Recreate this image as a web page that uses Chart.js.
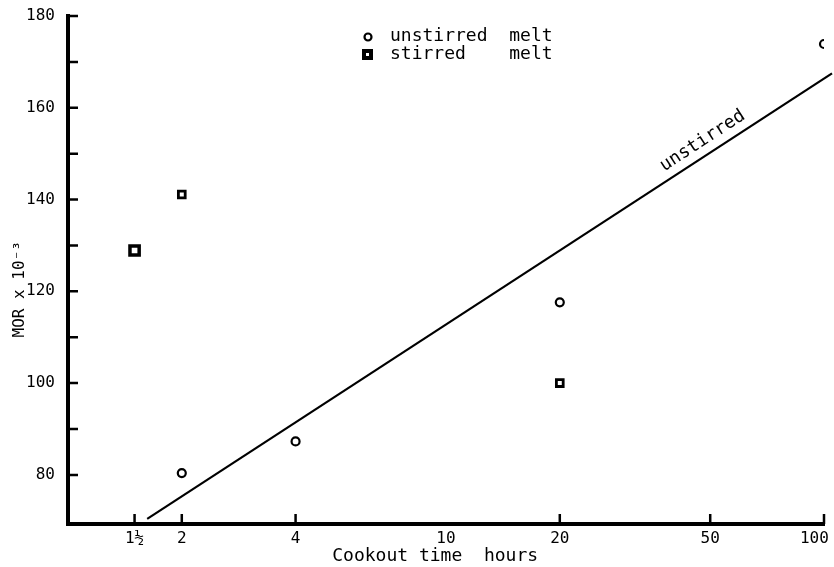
<!DOCTYPE html>
<html>
<head>
<meta charset="utf-8">
<script src="https://cdn.jsdelivr.net/npm/chart.js@4/dist/chart.umd.min.js"></script>
<style>
  html, body { margin: 0; padding: 0; background: #fff; }
  #wrap { width: 834px; height: 567px; }
</style>
</head>
<body>
<div id="wrap"><canvas id="mor"></canvas></div>
<script>
// cookout time (hours) vs MOR x 10^-3
const unstirredHours = [2, 4, 20, 100];
const unstirredMor = [80.4, 87.3, 117.6, 173.9];
const stirredHours = [1.5, 2, 20];
const stirredMor = [128.9, 141.1, 100];
// fitted line for the unstirred melt
const fitHours = [1.62, 105];
const fitMor = [70.4, 167.5];

const xTicks = [1.5, 2, 4, 10, 20, 50, 100];
const xTickLabels = ['1\u00bd', '2', '4', '10', '20', '50', '100  '];
const xTickMarks = [1.5, 2, 4, 20, 50, 100];
const yTicks = [80, 90, 100, 110, 120, 130, 140, 150, 160, 170, 180];

const FONT = "'DejaVu Sans Mono', monospace";

const toPoints = (xs, ys) => xs.map((x, i) => ({ x: x, y: ys[i] }));

// inward tick marks, legend and the line label
const decorations = {
  id: 'decorations',
  afterDraw(chart) {
    const ctx = chart.ctx;
    const xs = chart.scales.x, ys = chart.scales.y;
    const area = chart.chartArea;
    ctx.save();
    ctx.strokeStyle = '#000';
    ctx.lineWidth = 2.5;
    ctx.beginPath();
    yTicks.forEach(v => {
      const py = ys.getPixelForValue(v);
      ctx.moveTo(area.left, py);
      ctx.lineTo(area.left + 10, py);
    });
    xTickMarks.forEach(v => {
      const px = xs.getPixelForValue(v);
      ctx.moveTo(px, area.bottom);
      ctx.lineTo(px, area.bottom - 10);
    });
    ctx.stroke();

    // legend
    ctx.fillStyle = '#000';
    ctx.font = '18px ' + FONT;
    ctx.textBaseline = 'middle';
    ctx.textAlign = 'left';
    ctx.lineWidth = 2.2;
    ctx.beginPath();
    ctx.arc(368, 37, 3.5, 0, Math.PI * 2);
    ctx.stroke();
    ctx.fillText('unstirred  melt', 390, 36);
    ctx.fillRect(362, 49, 11, 11);
    ctx.fillStyle = '#fff';
    ctx.fillRect(366, 53, 3, 3);
    ctx.fillStyle = '#000';
    ctx.fillText('stirred    melt', 390, 54);

    // "unstirred" written along the fitted line
    const p0 = { x: xs.getPixelForValue(fitHours[0]), y: ys.getPixelForValue(fitMor[0]) };
    const p1 = { x: xs.getPixelForValue(fitHours[1]), y: ys.getPixelForValue(fitMor[1]) };
    const ang = Math.atan2(p1.y - p0.y, p1.x - p0.x);
    const lx = xs.getPixelForValue(50);
    const t = (lx - p0.x) / (p1.x - p0.x);
    const ly = p0.y + t * (p1.y - p0.y);
    ctx.translate(lx, ly);
    ctx.rotate(ang);
    ctx.textAlign = 'center';
    ctx.textBaseline = 'bottom';
    ctx.fillText('unstirred', 0, -5);
    ctx.restore();
  }
};

new Chart(document.getElementById('mor'), {
  type: 'scatter',
  data: {
    datasets: [
      {
        label: 'unstirred melt',
        data: toPoints(unstirredHours, unstirredMor),
        pointStyle: 'circle',
        pointRadius: 4,
        pointBorderWidth: 2.2,
        borderColor: '#000',
        backgroundColor: '#fff'
      },
      {
        label: 'stirred melt',
        data: toPoints(stirredHours, stirredMor),
        pointStyle: 'rect',
        pointRadius: [6.5, 4.8, 4.8],
        pointBorderWidth: [3.5, 2.8, 2.8],
        borderColor: '#000',
        backgroundColor: '#fff'
      },
      {
        label: 'unstirred fit',
        data: toPoints(fitHours, fitMor),
        showLine: true,
        pointRadius: 0,
        borderColor: '#000',
        borderWidth: 2.2,
        clip: false
      }
    ]
  },
  options: {
    responsive: true,
    maintainAspectRatio: false,
    animation: false,
    layout: { padding: { top: 16, right: 10, left: 0, bottom: 0 } },
    plugins: {
      legend: { display: false },
      tooltip: { enabled: false }
    },
    scales: {
      x: {
        type: 'logarithmic',
        min: 1,
        max: 100,
        afterBuildTicks: (scale) => { scale.ticks = xTicks.map(v => ({ value: v })); },
        afterFit: (scale) => { scale.height = 43; scale.paddingRight = 0; scale.paddingLeft = 0; },
        grid: { display: true, drawOnChartArea: false, drawTicks: false },
        border: { display: true, color: '#000', width: 4 },
        ticks: {
          autoSkip: false,
          maxRotation: 0,
          padding: 5,
          color: '#000',
          font: { family: FONT, size: 16 },
          callback: (v) => xTickLabels[xTicks.indexOf(v)]
        },
        title: {
          display: true,
          text: 'Cookout time  hours  ',
          color: '#000',
          font: { family: FONT, size: 18 },
          padding: { top: 0, bottom: 0 }
        }
      },
      y: {
        type: 'linear',
        min: 69.3,
        max: 180,
        afterBuildTicks: (scale) => { scale.ticks = yTicks.map(v => ({ value: v })); },
        afterFit: (scale) => { scale.width = 68; scale.paddingTop = 0; scale.paddingBottom = 0; },
        grid: { display: true, drawOnChartArea: false, drawTicks: false },
        border: { display: true, color: '#000', width: 4 },
        ticks: {
          padding: 13,
          color: '#000',
          font: { family: FONT, size: 16 },
          callback: (v) => (v % 20 === 0 ? String(v) : '')
        },
        title: {
          display: true,
          text: 'MOR x 10\u207b\u00b3    ',
          color: '#000',
          font: { family: FONT, size: 16 },
          padding: { top: 10, bottom: 0 }
        }
      }
    }
  },
  plugins: [decorations]
});
</script>
</body>
</html>
